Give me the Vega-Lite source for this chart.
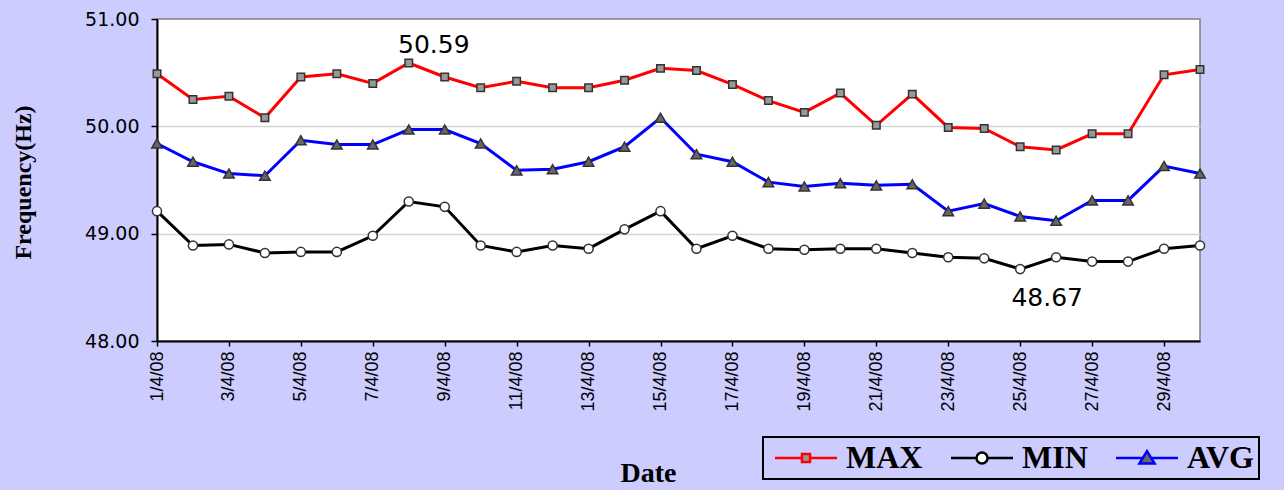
{
  "$schema": "https://vega.github.io/schema/vega-lite/v6.json",
  "autosize": {"type": "none"},
  "width": 1043,
  "height": 322,
  "padding": {"left": 157, "top": 19, "right": 84, "bottom": 149},
  "background": "#CCCCFF",
  "config": {
    "view": {"stroke": "#808080", "strokeWidth": 1.5, "fill": "white"},
    "legend": {
      "orient": "none",
      "legendX": 606,
      "legendY": 418,
      "direction": "horizontal",
      "columns": 3,
      "symbolSize": 400,
      "symbolStrokeWidth": 2.5,
      "symbolOpacity": 1,
      "symbolOffset": 22,
      "labelFont": "Liberation Serif",
      "labelFontWeight": "bold",
      "labelFontSize": 32,
      "labelColor": "#000000",
      "labelOffset": 24,
      "labelLimit": 0,
      "columnPadding": 21,
      "padding": 5,
      "strokeColor": "#000000",
      "strokeWidth": 2
    }
  },
  "datasets": {
    "freq": [
      {"date": "1/4/08", "series": "MAX", "value": 50.49},
      {"date": "2/4/08", "series": "MAX", "value": 50.25},
      {"date": "3/4/08", "series": "MAX", "value": 50.28},
      {"date": "4/4/08", "series": "MAX", "value": 50.08},
      {"date": "5/4/08", "series": "MAX", "value": 50.46},
      {"date": "6/4/08", "series": "MAX", "value": 50.49},
      {"date": "7/4/08", "series": "MAX", "value": 50.40},
      {"date": "8/4/08", "series": "MAX", "value": 50.59},
      {"date": "9/4/08", "series": "MAX", "value": 50.46},
      {"date": "10/4/08", "series": "MAX", "value": 50.36},
      {"date": "11/4/08", "series": "MAX", "value": 50.42},
      {"date": "12/4/08", "series": "MAX", "value": 50.36},
      {"date": "13/4/08", "series": "MAX", "value": 50.36},
      {"date": "14/4/08", "series": "MAX", "value": 50.43},
      {"date": "15/4/08", "series": "MAX", "value": 50.54},
      {"date": "16/4/08", "series": "MAX", "value": 50.52},
      {"date": "17/4/08", "series": "MAX", "value": 50.39},
      {"date": "18/4/08", "series": "MAX", "value": 50.24},
      {"date": "19/4/08", "series": "MAX", "value": 50.13},
      {"date": "20/4/08", "series": "MAX", "value": 50.31},
      {"date": "21/4/08", "series": "MAX", "value": 50.01},
      {"date": "22/4/08", "series": "MAX", "value": 50.30},
      {"date": "23/4/08", "series": "MAX", "value": 49.99},
      {"date": "24/4/08", "series": "MAX", "value": 49.98},
      {"date": "25/4/08", "series": "MAX", "value": 49.81},
      {"date": "26/4/08", "series": "MAX", "value": 49.78},
      {"date": "27/4/08", "series": "MAX", "value": 49.93},
      {"date": "28/4/08", "series": "MAX", "value": 49.93},
      {"date": "29/4/08", "series": "MAX", "value": 50.48},
      {"date": "30/4/08", "series": "MAX", "value": 50.53},
      {"date": "1/4/08", "series": "MIN", "value": 49.21},
      {"date": "2/4/08", "series": "MIN", "value": 48.89},
      {"date": "3/4/08", "series": "MIN", "value": 48.90},
      {"date": "4/4/08", "series": "MIN", "value": 48.82},
      {"date": "5/4/08", "series": "MIN", "value": 48.83},
      {"date": "6/4/08", "series": "MIN", "value": 48.83},
      {"date": "7/4/08", "series": "MIN", "value": 48.98},
      {"date": "8/4/08", "series": "MIN", "value": 49.30},
      {"date": "9/4/08", "series": "MIN", "value": 49.25},
      {"date": "10/4/08", "series": "MIN", "value": 48.89},
      {"date": "11/4/08", "series": "MIN", "value": 48.83},
      {"date": "12/4/08", "series": "MIN", "value": 48.89},
      {"date": "13/4/08", "series": "MIN", "value": 48.86},
      {"date": "14/4/08", "series": "MIN", "value": 49.04},
      {"date": "15/4/08", "series": "MIN", "value": 49.21},
      {"date": "16/4/08", "series": "MIN", "value": 48.86},
      {"date": "17/4/08", "series": "MIN", "value": 48.98},
      {"date": "18/4/08", "series": "MIN", "value": 48.86},
      {"date": "19/4/08", "series": "MIN", "value": 48.85},
      {"date": "20/4/08", "series": "MIN", "value": 48.86},
      {"date": "21/4/08", "series": "MIN", "value": 48.86},
      {"date": "22/4/08", "series": "MIN", "value": 48.82},
      {"date": "23/4/08", "series": "MIN", "value": 48.78},
      {"date": "24/4/08", "series": "MIN", "value": 48.77},
      {"date": "25/4/08", "series": "MIN", "value": 48.67},
      {"date": "26/4/08", "series": "MIN", "value": 48.78},
      {"date": "27/4/08", "series": "MIN", "value": 48.74},
      {"date": "28/4/08", "series": "MIN", "value": 48.74},
      {"date": "29/4/08", "series": "MIN", "value": 48.86},
      {"date": "30/4/08", "series": "MIN", "value": 48.89},
      {"date": "1/4/08", "series": "AVG", "value": 49.84},
      {"date": "2/4/08", "series": "AVG", "value": 49.67},
      {"date": "3/4/08", "series": "AVG", "value": 49.56},
      {"date": "4/4/08", "series": "AVG", "value": 49.54},
      {"date": "5/4/08", "series": "AVG", "value": 49.87},
      {"date": "6/4/08", "series": "AVG", "value": 49.83},
      {"date": "7/4/08", "series": "AVG", "value": 49.83},
      {"date": "8/4/08", "series": "AVG", "value": 49.97},
      {"date": "9/4/08", "series": "AVG", "value": 49.97},
      {"date": "10/4/08", "series": "AVG", "value": 49.84},
      {"date": "11/4/08", "series": "AVG", "value": 49.59},
      {"date": "12/4/08", "series": "AVG", "value": 49.60},
      {"date": "13/4/08", "series": "AVG", "value": 49.67},
      {"date": "14/4/08", "series": "AVG", "value": 49.81},
      {"date": "15/4/08", "series": "AVG", "value": 50.08},
      {"date": "16/4/08", "series": "AVG", "value": 49.74},
      {"date": "17/4/08", "series": "AVG", "value": 49.67},
      {"date": "18/4/08", "series": "AVG", "value": 49.48},
      {"date": "19/4/08", "series": "AVG", "value": 49.44},
      {"date": "20/4/08", "series": "AVG", "value": 49.47},
      {"date": "21/4/08", "series": "AVG", "value": 49.45},
      {"date": "22/4/08", "series": "AVG", "value": 49.46},
      {"date": "23/4/08", "series": "AVG", "value": 49.21},
      {"date": "24/4/08", "series": "AVG", "value": 49.28},
      {"date": "25/4/08", "series": "AVG", "value": 49.16},
      {"date": "26/4/08", "series": "AVG", "value": 49.12},
      {"date": "27/4/08", "series": "AVG", "value": 49.31},
      {"date": "28/4/08", "series": "AVG", "value": 49.31},
      {"date": "29/4/08", "series": "AVG", "value": 49.63},
      {"date": "30/4/08", "series": "AVG", "value": 49.56}
    ]
  },
  "resolve": {"scale": {"shape": "independent", "fill": "independent", "stroke": "independent"}},
  "encoding": {
    "x": {
      "field": "date",
      "type": "nominal",
      "sort": ["1/4/08","2/4/08","3/4/08","4/4/08","5/4/08","6/4/08","7/4/08","8/4/08","9/4/08","10/4/08","11/4/08","12/4/08","13/4/08","14/4/08","15/4/08","16/4/08","17/4/08","18/4/08","19/4/08","20/4/08","21/4/08","22/4/08","23/4/08","24/4/08","25/4/08","26/4/08","27/4/08","28/4/08","29/4/08","30/4/08"],
      "scale": {"type": "point", "padding": 0},
      "axis": {
        "values": ["1/4/08","3/4/08","5/4/08","7/4/08","9/4/08","11/4/08","13/4/08","15/4/08","17/4/08","19/4/08","21/4/08","23/4/08","25/4/08","27/4/08","29/4/08"],
        "title": "Date",
        "titleFont": "Liberation Serif",
        "titleFontWeight": "bold",
        "titleFontSize": 28,
        "titleColor": "#000000",
        "titleX": 491,
        "titleY": 140,
        "titleAlign": "center",
        "titleBaseline": "alphabetic",
        "labelAngle": -90,
        "labelFont": "Liberation Sans",
        "labelFontSize": 18,
        "labelColor": "#000000",
        "labelPadding": 5,
        "labelOverlap": false,
        "domainColor": "#000000",
        "domainWidth": 2,
        "tickColor": "#000000",
        "tickWidth": 1.5,
        "tickSize": 5,
        "grid": false
      }
    },
    "y": {
      "field": "value",
      "type": "quantitative",
      "scale": {"domain": [48, 51], "nice": false, "zero": false},
      "axis": {
        "values": [48, 49, 50, 51],
        "format": ".2f",
        "title": "Frequency(Hz)",
        "titleFont": "Liberation Serif",
        "titleFontWeight": "bold",
        "titleFontSize": 24,
        "titleColor": "#000000",
        "titleX": -134,
        "titleY": 163,
        "titleAlign": "center",
        "titleBaseline": "middle",
        "labelFont": "DejaVu Sans",
        "labelFontSize": 19,
        "labelColor": "#000000",
        "labelPadding": 12,
        "domainColor": "#000000",
        "domainWidth": 2,
        "tickColor": "#000000",
        "tickWidth": 1.5,
        "tickSize": 6,
        "grid": true,
        "gridColor": {"condition": {"test": "datum.value === 51 || datum.value === 48", "value": "transparent"}, "value": "#d4d4d4"},
        "gridWidth": 1.5
      }
    }
  },
  "layer": [
    {
      "data": {"name": "freq"},
      "mark": {"type": "line", "strokeWidth": 3},
      "encoding": {
        "color": {
          "field": "series",
          "type": "nominal",
          "scale": {"domain": ["MAX", "MIN", "AVG"], "range": ["#FF0000", "#000000", "#0000FF"]},
          "legend": null
        }
      }
    },
    {
      "data": {"name": "freq"},
      "mark": {"type": "point", "filled": true, "opacity": 1, "stroke": "#333333", "strokeWidth": 1.5},
      "encoding": {
        "shape": {
          "field": "series",
          "type": "nominal",
          "scale": {"domain": ["MAX", "MIN", "AVG"], "range": ["square", "circle", "triangle-up"]},
          "legend": null
        },
        "fill": {
          "field": "series",
          "type": "nominal",
          "scale": {"domain": ["MAX", "MIN", "AVG"], "range": ["#999999", "#ffffff", "#666666"]},
          "legend": null
        },
        "size": {
          "field": "series",
          "type": "nominal",
          "scale": {"domain": ["MAX", "MIN", "AVG"], "range": [56, 110, 230]},
          "legend": null
        }
      }
    },
    {
      "data": {"name": "freq"},
      "mark": {"type": "point", "filled": true, "opacity": 0, "strokeWidth": 2.5},
      "encoding": {
        "shape": {
          "field": "series",
          "type": "nominal",
          "scale": {
            "domain": ["MAX", "MIN", "AVG"],
            "range": [
              "M-3.1,0H-0.4M0.4,0H3.1M-0.4,-0.4H0.4V0.4H-0.4Z",
              "M-3.1,0H-0.55M0.55,0H3.1M0.55,0A0.55,0.55,0,1,1,-0.55,0A0.55,0.55,0,1,1,0.55,0Z",
              "M-3.1,0H-0.42M0.42,0H3.1M0,-0.68L0.76,0.55L-0.76,0.55Z"
            ]
          },
          "legend": {"title": null}
        },
        "fill": {
          "field": "series",
          "type": "nominal",
          "scale": {"domain": ["MAX", "MIN", "AVG"], "range": ["#999999", "#ffffff", "#666666"]},
          "legend": {"title": null}
        },
        "stroke": {
          "field": "series",
          "type": "nominal",
          "scale": {"domain": ["MAX", "MIN", "AVG"], "range": ["#FF0000", "#000000", "#0000FF"]},
          "legend": {"title": null}
        }
      }
    },
    {
      "data": {"values": [{"date": "8/4/08", "value": 50.59, "label": "50.59"}]},
      "mark": {"type": "text", "font": "DejaVu Sans", "fontSize": 25, "color": "#000000", "align": "center", "baseline": "alphabetic", "dx": 25, "dy": -10},
      "encoding": {"text": {"field": "label"}}
    },
    {
      "data": {"values": [{"date": "25/4/08", "value": 48.67, "label": "48.67"}]},
      "mark": {"type": "text", "font": "DejaVu Sans", "fontSize": 25, "color": "#000000", "align": "center", "baseline": "alphabetic", "dx": 27, "dy": 37},
      "encoding": {"text": {"field": "label"}}
    }
  ]
}
